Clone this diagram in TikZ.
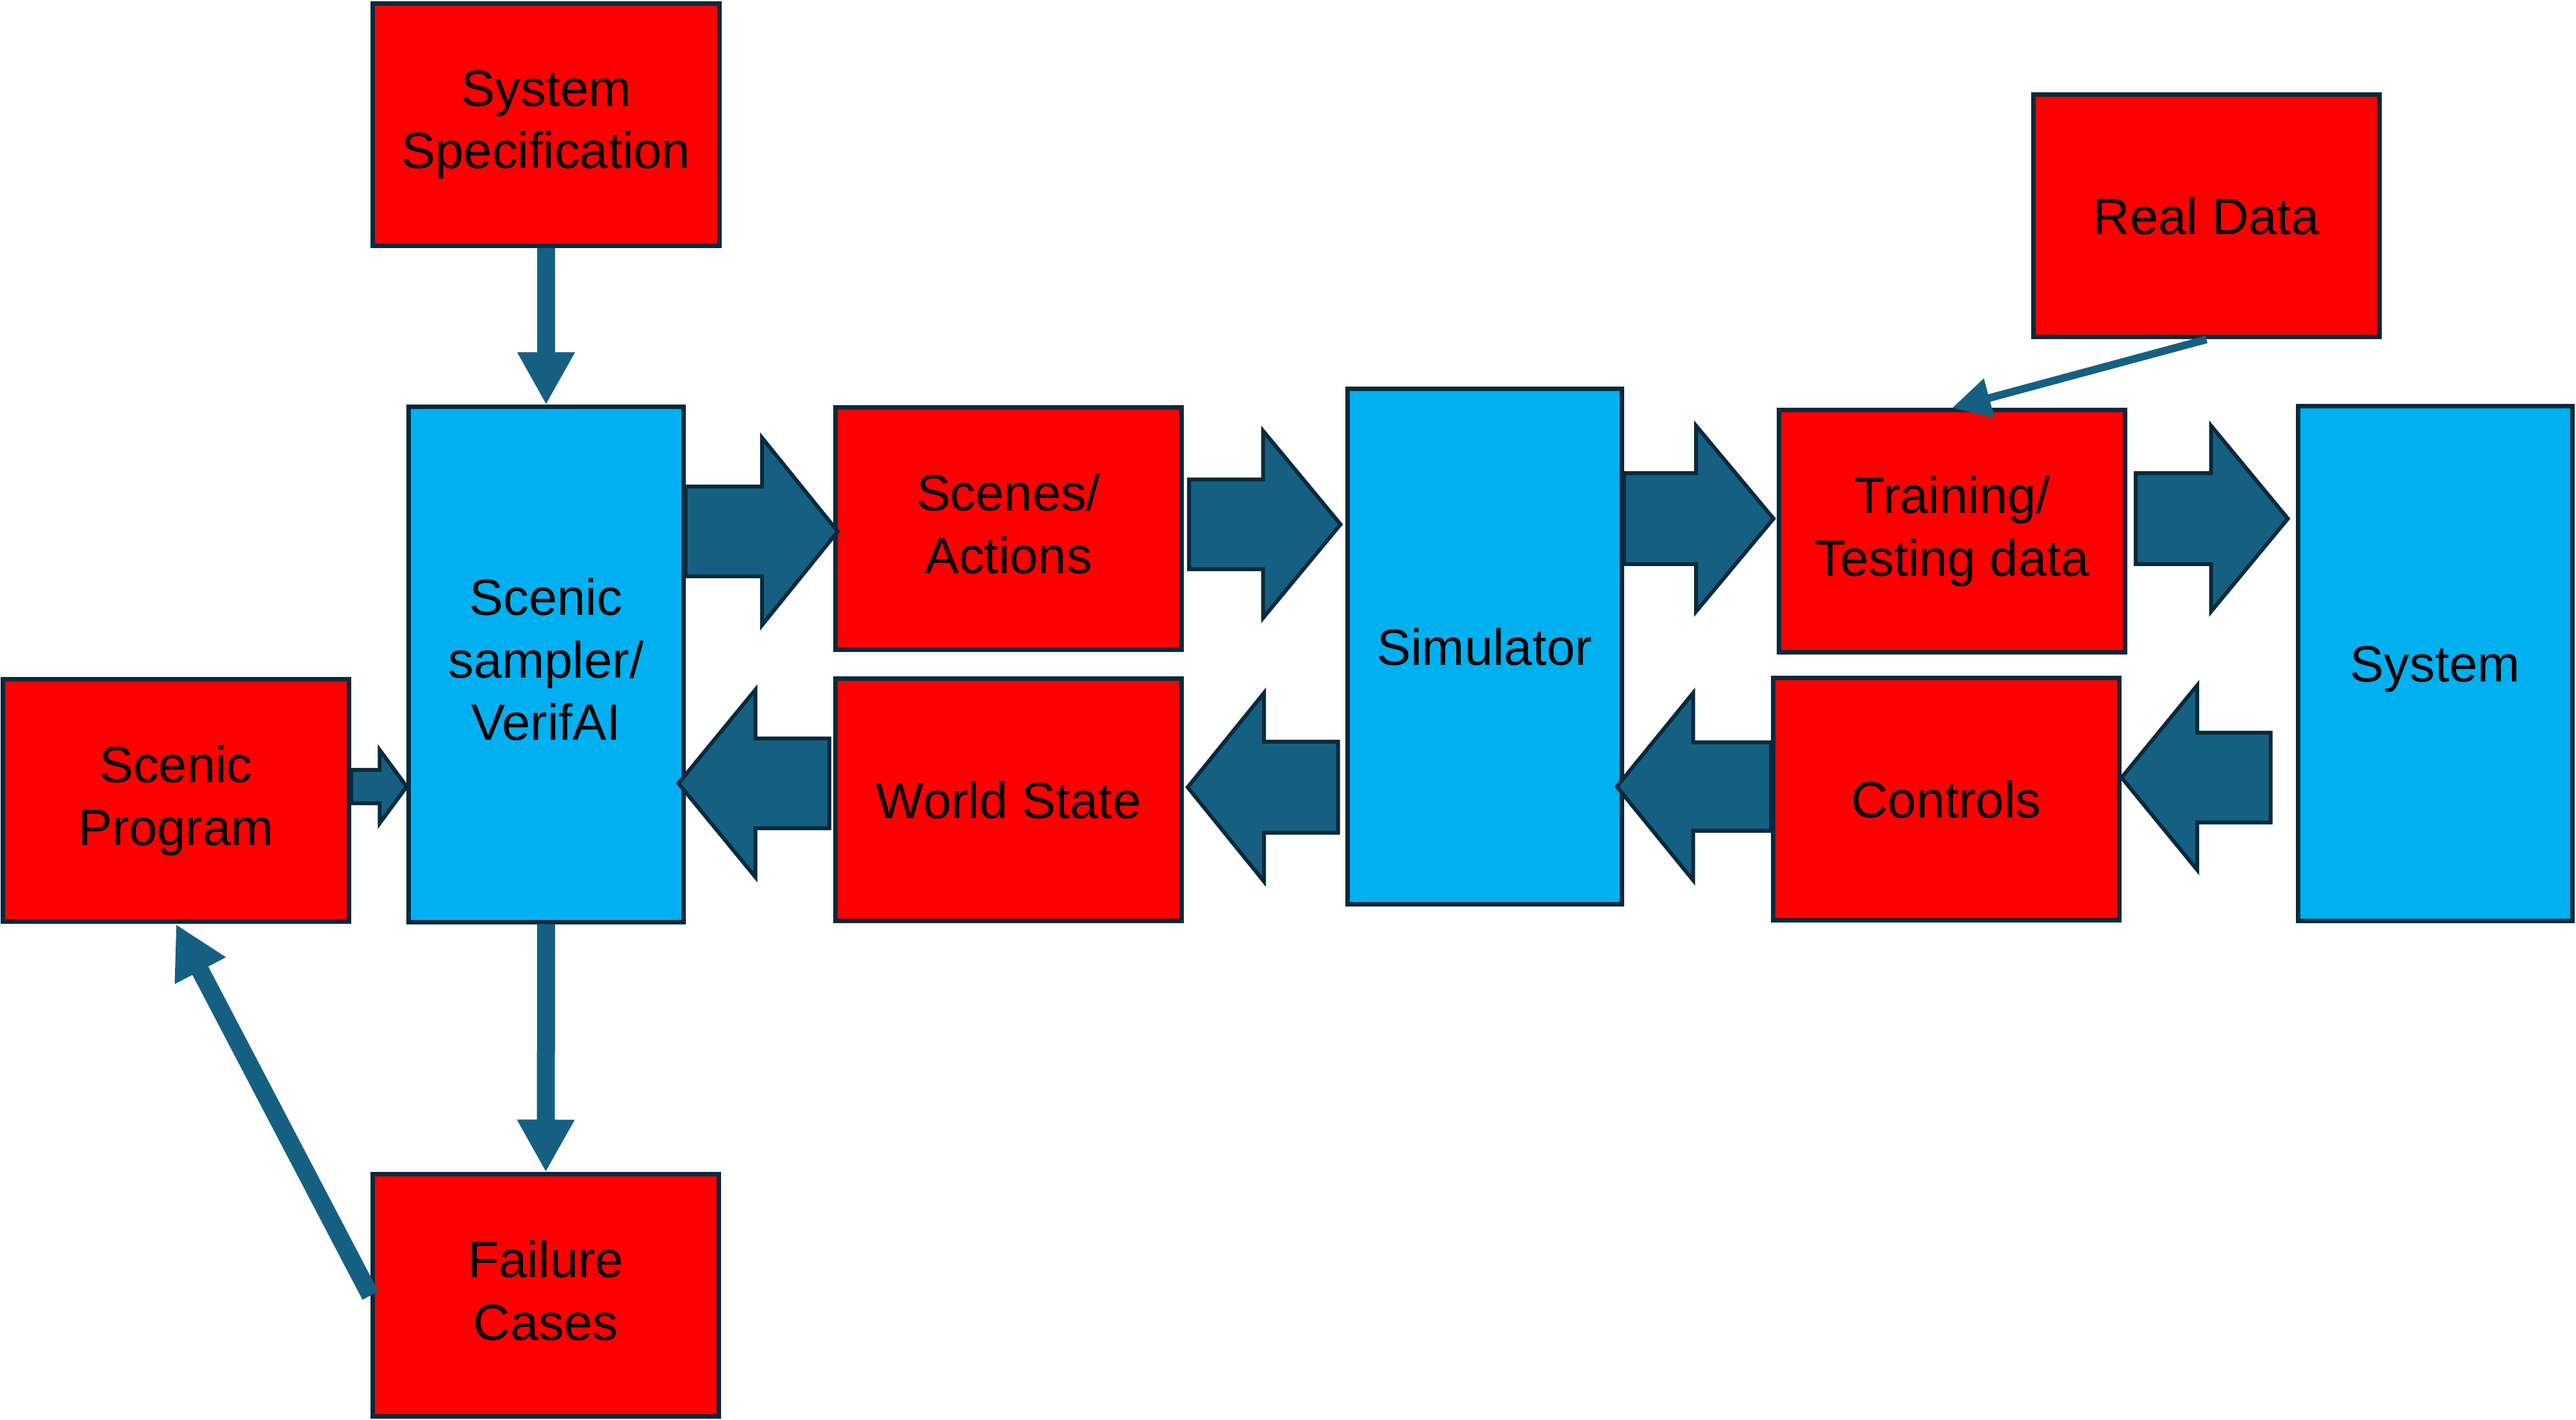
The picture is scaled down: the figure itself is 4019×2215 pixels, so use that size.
\documentclass[tikz,border=0pt]{standalone}
\usepackage{fontspec}
\setmainfont{Liberation Sans}
\usetikzlibrary{arrows.meta,calc}
\definecolor{boxred}{HTML}{FF0000}
\definecolor{boxblue}{HTML}{00B0F0}
\definecolor{arrowblue}{HTML}{156082}
\definecolor{edgedark}{HTML}{082A3C}
\newcommand{\topstrut}{\rule{0pt}{10.5pt}}
\newcommand{\botstrut}{\rule[-2.3pt]{0pt}{2.3pt}}
% fat arrow: tail, tip, y, half shaft, half head, head length
\newcommand{\fatarrow}[6]{%
	\draw[blockarrow] let \p1=#1, \p2=#2, \n1={ifthenelse(\x2>\x1,1,-1)} in
		(\x1,#3-#4) -- ({\x2-\n1*#6*0.05mm},#3-#4) -- ({\x2-\n1*#6*0.05mm},#3-#5)
		-- (\x2,#3) -- ({\x2-\n1*#6*0.05mm},#3+#5) -- ({\x2-\n1*#6*0.05mm},#3+#4)
		-- (\x1,#3+#4) -- cycle;}
\begin{document}
\begin{tikzpicture}[x=0.05mm,y=-0.05mm,
	redbox/.style={draw=edgedark,fill=boxred,line width=0.35mm,minimum width=27mm,minimum height=18.9mm,align=center,inner sep=0pt,font=\fontsize{11.3}{13.9}\selectfont,execute at begin node=\topstrut,execute at end node=\botstrut},
	bluebox/.style={redbox,fill=boxblue,minimum width=21.4mm,minimum height=40.15mm},
	link/.style={draw=arrowblue,line width=1.4mm,-{Triangle[width=4.2mm,length=4.1mm]}},
	thinlink/.style={draw=arrowblue,line width=0.6mm,-{Triangle[width=3mm,length=3mm]}},
	blockarrow/.style={fill=arrowblue,draw=edgedark,line width=0.3mm,line join=miter}]
	\useasboundingbox (0,0) rectangle (4019,2215);
	\node[redbox] (spec) at (852,194.5) {System\\Specification};
	\node[bluebox] (sampler) at (852,1036.5) {Scenic\\sampler/\\VerifAI};
	\node[redbox] (program) at (274.5,1249) {Scenic\\Program};
	\node[redbox] (failure) at (851.5,2021) {Failure\\Cases};
	\node[redbox] (scenes) at (1573.5,824.5) {Scenes/\\Actions};
	\node[redbox] (world) at (1573.5,1248) {World State};
	\node[bluebox] (sim) at (2316,1008.5) {Simulator};
	\node[redbox] (training) at (3045.5,829) {Training/\\Testing data};
	\node[redbox] (real) at (3442.5,337) {Real Data};
	\node[redbox] (controls) at (3036.5,1247) {Controls};
	\node[bluebox] (system) at (3799,1035) {System};
	%
	\draw[link] (spec.south) -- (sampler.north);
	\draw[link] (sampler.south) -- (failure.north);
	\draw[link] (failure.west) -- (program.south);
	\draw[thinlink] (real.south) -- (training.north);
	%
	\fatarrow{(program.east)}{(sampler.west)}{1227}{26}{57}{42}
	\fatarrow{(sampler.east)}{($(scenes.west)+(7,0)$)}{829}{70}{146}{118}
	\fatarrow{($(scenes.east)+(8,0)$)}{($(sim.west)+(-7,0)$)}{818}{70}{146}{121}
	\fatarrow{(sim.east)}{($(training.west)+(-5,0)$)}{809}{71}{145}{121}
	\fatarrow{($(training.east)+(13,0)$)}{($(system.west)+(-12,0)$)}{809}{71}{145}{120}
	\fatarrow{($(system.west)+(-39,0)$)}{(controls.east)}{1213}{70}{144}{118}
	\fatarrow{(controls.west)}{($(sim.east)+(-11,0)$)}{1227}{69}{146}{119}
	\fatarrow{($(sim.west)+(-11,0)$)}{($(world.east)+(6,0)$)}{1228}{71}{147}{119}
	\fatarrow{($(world.west)+(-6,0)$)}{($(sampler.east)+(-11,0)$)}{1222}{70}{146}{120}
\end{tikzpicture}
\end{document}
